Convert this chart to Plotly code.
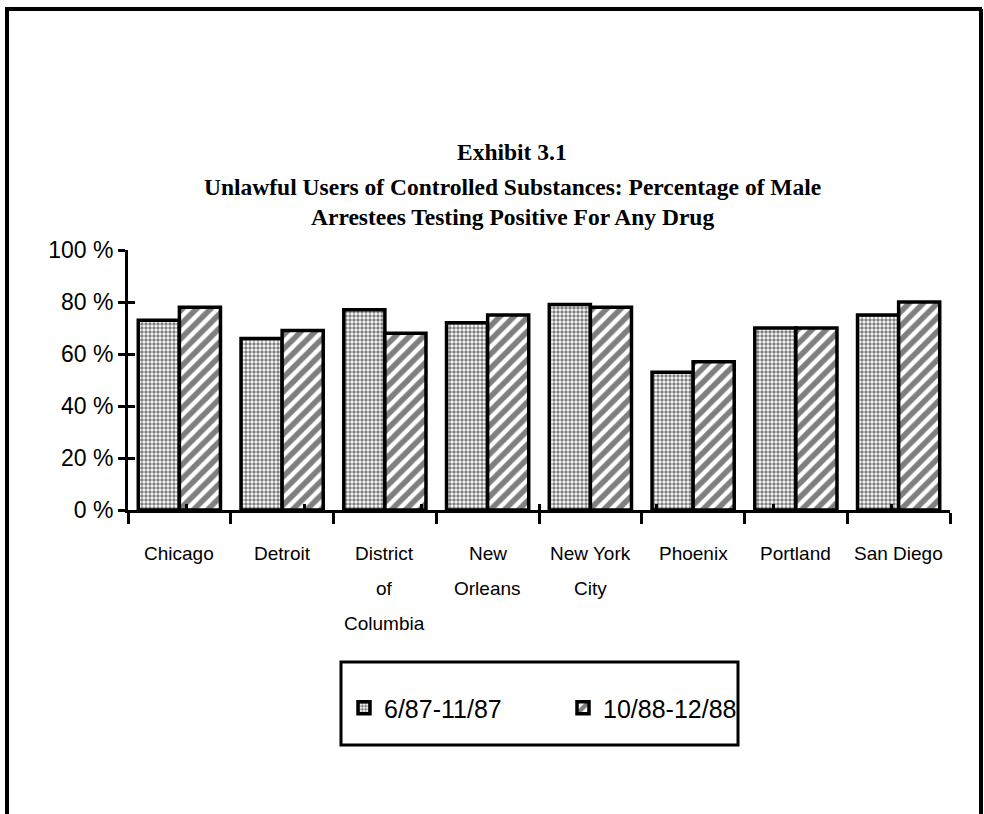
import plotly.graph_objects as go

# ---- data ----
cities = ["Chicago", "Detroit", "District of Columbia", "New Orleans",
          "New York City", "Phoenix", "Portland", "San Diego"]
city_label_lines = [["Chicago"], ["Detroit"], ["District", "of", "Columbia"],
                    ["New", "Orleans"], ["New York", "City"], ["Phoenix"],
                    ["Portland"], ["San Diego"]]
period1_name = "6/87-11/87"
period2_name = "10/88-12/88"
period1 = [73, 66, 77, 72, 79, 53, 70, 75]
period2 = [78, 69, 68, 75, 78, 57, 70, 80]
y_tick_vals = [0, 20, 40, 60, 80, 100]
y_tick_text = ["0 %", "20 %", "40 %", "60 %", "80 %", "100 %"]
title_lines = ["Exhibit 3.1",
               "Unlawful Users of Controlled Substances: Percentage of Male",
               "Arrestees Testing Positive For Any Drug"]

# ---- layout geometry ----
W, H = 984, 814
L, R, T, B = 128, 950, 250, 510


def px(xp):
    return (xp - L) / (R - L)


def py(yp):
    return (B - yp) / (B - T)


SANS = "Liberation Sans, Arial, sans-serif"
SERIF = "Liberation Serif, Times New Roman, serif"

fig = go.Figure()
fig.add_trace(go.Bar(
    x=cities, y=period1, name=period1_name,
    marker=dict(color="white",
                line=dict(color="black", width=3.5),
                pattern=dict(shape=".", fgcolor="black", bgcolor="white",
                             size=4, solidity=0.6, fillmode="overlay")),
))
fig.add_trace(go.Bar(
    x=cities, y=period2, name=period2_name,
    marker=dict(color="white",
                line=dict(color="black", width=3.5),
                pattern=dict(shape="/", fgcolor="black", bgcolor="white",
                             size=10, solidity=0.55, fillmode="overlay")),
))
# invisible helper trace so the crossing-tick overlay axes are drawn
fig.add_trace(go.Scatter(
    x=cities, y=period1, xaxis="x2", yaxis="y2", mode="none",
    showlegend=False, hoverinfo="skip"))

annotations = []
title_y = [152, 187, 217]
for txt, yy in zip(title_lines, title_y):
    annotations.append(dict(
        text="<b>%s</b>" % txt, x=px(512), y=py(yy), xref="paper", yref="paper",
        xanchor="center", yanchor="middle", showarrow=False,
        font=dict(family=SERIF, size=23.5, color="black")))

line_y = [553, 588, 623]
for c, lines in zip(cities, city_label_lines):
    for j, ln in enumerate(lines):
        annotations.append(dict(
            text=ln, x=c, y=py(line_y[j]), xref="x", yref="paper",
            xanchor="center", yanchor="middle", showarrow=False,
            font=dict(family=SANS, size=19, color="black")))

shapes = [
    # legend frame
    dict(type="rect", xref="paper", yref="paper",
         x0=px(341), x1=px(738), y0=py(745), y1=py(662),
         line=dict(color="black", width=3), fillcolor="rgba(0,0,0,0)"),
    # outer page frame (left, top, right)
    dict(type="line", xref="paper", yref="paper",
         x0=px(7), x1=px(7), y0=py(814), y1=py(9),
         line=dict(color="black", width=4)),
    dict(type="line", xref="paper", yref="paper",
         x0=px(5), x1=px(982), y0=py(9), y1=py(9),
         line=dict(color="black", width=4)),
    dict(type="line", xref="paper", yref="paper",
         x0=px(981), x1=px(981), y0=py(814), y1=py(9),
         line=dict(color="black", width=4)),
]

fig.update_layout(
    width=W, height=H,
    margin=dict(l=L, r=W - R, t=T, b=H - B, pad=0),
    paper_bgcolor="white", plot_bgcolor="white",
    barmode="group", bargap=0.2, bargroupgap=0,
    showlegend=True,
    legend=dict(orientation="h", x=px(344), y=py(708), xanchor="left",
                yanchor="middle", bgcolor="rgba(0,0,0,0)", borderwidth=0,
                font=dict(family=SANS, size=25, color="black"),
                entrywidth=174, entrywidthmode="pixels", itemwidth=30),
    xaxis=dict(type="category", showticklabels=False, showline=True,
               linecolor="black", linewidth=3, ticks="outside",
               tickson="boundaries", ticklen=11, tickwidth=3,
               tickcolor="black", showgrid=False, zeroline=False),
    xaxis2=dict(type="category", overlaying="x", side="bottom", anchor="y",
                showticklabels=False, showline=False, ticks="inside",
                tickson="boundaries", ticklen=6, tickwidth=3,
                tickcolor="black", showgrid=False, zeroline=False),
    yaxis=dict(range=[0, 100], tickmode="array",
               tickvals=y_tick_vals, ticktext=y_tick_text,
               showline=True, linecolor="black", linewidth=3,
               ticks="outside", ticklen=7, tickwidth=3, tickcolor="black",
               showgrid=False, zeroline=False,
               tickfont=dict(family=SANS, size=23, color="black")),
    yaxis2=dict(range=[0, 100], overlaying="y", side="left", anchor="x",
                tickmode="array", tickvals=y_tick_vals[1:],
                showticklabels=False, ticks="inside", ticklen=7, tickwidth=3,
                tickcolor="black", showline=False, showgrid=False,
                zeroline=False),
    annotations=annotations,
    shapes=shapes,
)

fig.write_html("out.html")
